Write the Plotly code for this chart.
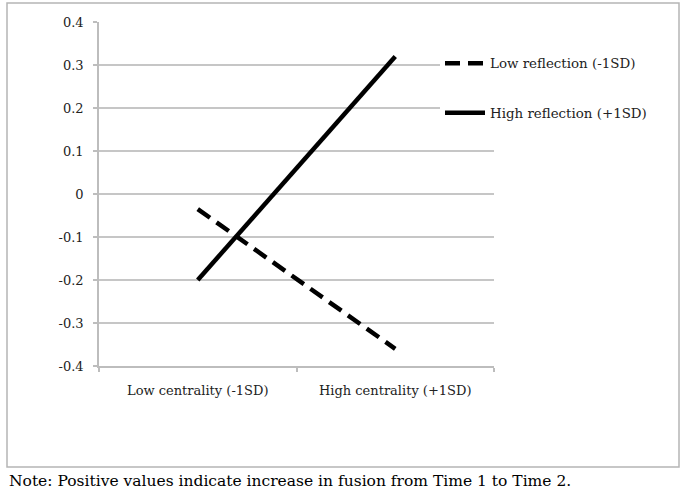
import plotly.graph_objects as go

categories = ["Low centrality (-1SD)", "High centrality (+1SD)"]
low_reflection = [-0.035, -0.36]
high_reflection = [-0.20, 0.32]
series_names = ["Low reflection (-1SD)", "High reflection (+1SD)"]
y_ticks = [0.4, 0.3, 0.2, 0.1, 0, -0.1, -0.2, -0.3, -0.4]
y_tick_text = ["0.4", "0.3", "0.2", "0.1", "0", "-0.1", "-0.2", "-0.3", "-0.4"]
note = "Note: Positive values indicate increase in fusion from Time 1 to Time 2."

FONT = "DejaVu Serif"
W, H = 686, 494
L, R, T, B = 99, 192, 22, 128
pw, ph = W - L - R, H - T - B

def px_x(x):
    return (x - L) / pw

def px_y(y):
    return (H - B - y) / ph

fig = go.Figure()
fig.add_trace(go.Scatter(
    x=categories, y=low_reflection, mode="lines", name=series_names[0],
    legendgroup="a",
    line=dict(color="black", width=4.5, dash="15px,8px"),
))
fig.add_trace(go.Scatter(
    x=categories, y=high_reflection, mode="lines", name=series_names[1],
    legendgroup="b",
    line=dict(color="black", width=4.5),
))

fig.update_layout(
    width=W, height=H,
    margin=dict(l=L, r=R, t=T, b=B),
    paper_bgcolor="white", plot_bgcolor="white",
    font=dict(family=FONT, size=13, color="#222"),
    showlegend=True,
    legend=dict(
        x=px_x(440), y=px_y(48), xanchor="left", yanchor="top",
        bgcolor="white", borderwidth=0, itemwidth=40,
        traceorder="grouped", tracegroupgap=29,
        font=dict(family=FONT, size=13.4, color="#222"),
    ),
    xaxis=dict(
        type="category", range=[-0.5, 1.5], tickson="boundaries",
        showgrid=False, showline=True, linecolor="#bdbdbd", linewidth=1.5,
        ticks="outside", ticklen=4, tickcolor="#bdbdbd", tickwidth=1.5,
        tickfont=dict(family=FONT, size=13, color="#222"),
        ticklabelstandoff=12, fixedrange=True,
    ),
    yaxis=dict(
        range=[-0.4, 0.4], tickvals=y_ticks, ticktext=y_tick_text,
        showgrid=True, gridcolor="#c6c6c6", gridwidth=1.5,
        showline=True, linecolor="#bdbdbd", linewidth=1.5,
        ticks="outside", ticklen=4, tickcolor="#bdbdbd", tickwidth=1.5,
        tickfont=dict(family=FONT, size=13, color="#222"),
        ticklabelstandoff=7, zeroline=False, fixedrange=True,
    ),
    shapes=[dict(
        type="rect", xref="paper", yref="paper",
        x0=px_x(7), x1=px_x(679), y0=px_y(467), y1=px_y(3),
        line=dict(color="#b5b5b5", width=1.5), fillcolor="rgba(0,0,0,0)",
        layer="below",
    )],
    annotations=[dict(
        text=note, xref="paper", yref="paper",
        x=px_x(7), y=px_y(481), xanchor="left", yanchor="middle",
        showarrow=False, font=dict(family=FONT, size=15.5, color="black"),
    )],
)

fig.write_html("out.html", config={"displayModeBar": False},
               post_script="document.body.style.margin='0px';")
